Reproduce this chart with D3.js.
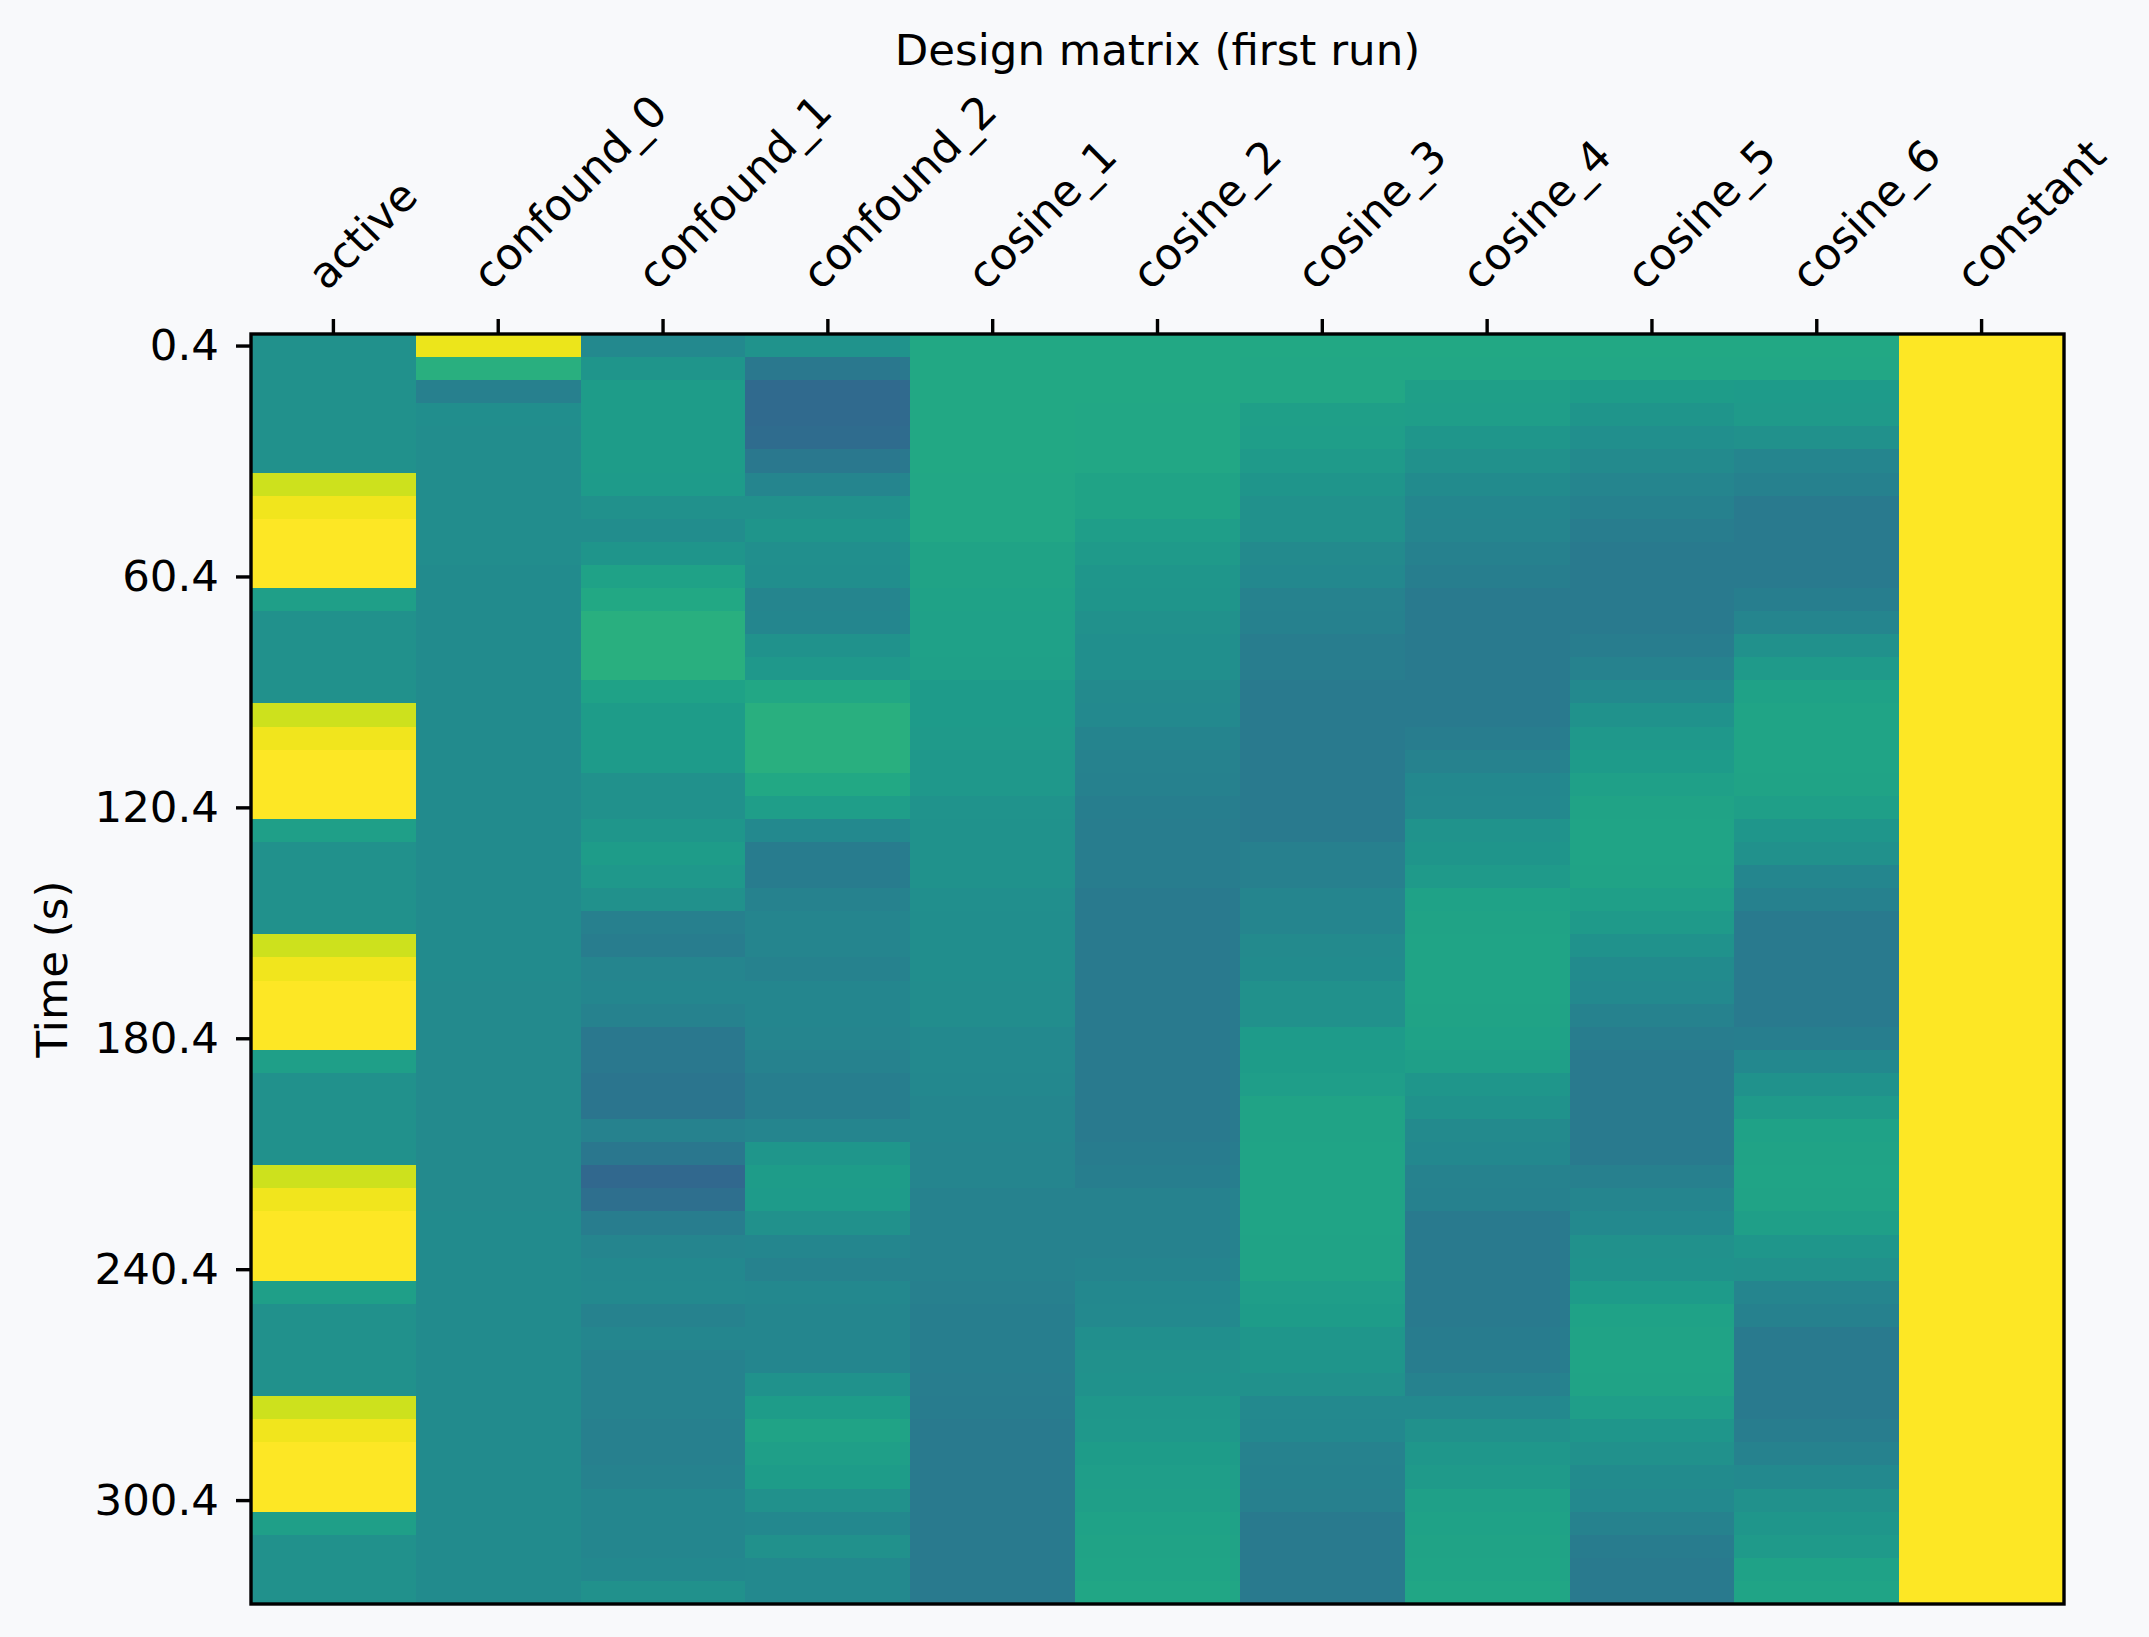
<!DOCTYPE html>
<html>
<head>
<meta charset="utf-8">
<script src="https://cdn.jsdelivr.net/npm/d3@7"></script>
<style>
	body { margin: 0; background: #f8f9fb; }
	text { font-family: "DejaVu Sans", sans-serif; fill: #000; }
</style>
</head>
<body>
<div id="chart-area"></div>
<script>
/*
 *    Design matrix (first run) - heatmap of the regressors
 */

// frame times (s), one per scan
var frameTimes = [0.4, 6.4, 12.4, 18.4, 24.4, 30.4, 36.4, 42.4, 48.4, 54.4,
	60.4, 66.4, 72.4, 78.4, 84.4, 90.4, 96.4, 102.4, 108.4, 114.4,
	120.4, 126.4, 132.4, 138.4, 144.4, 150.4, 156.4, 162.4, 168.4, 174.4,
	180.4, 186.4, 192.4, 198.4, 204.4, 210.4, 216.4, 222.4, 228.4, 234.4,
	240.4, 246.4, 252.4, 258.4, 264.4, 270.4, 276.4, 282.4, 288.4, 294.4,
	300.4, 306.4, 312.4, 318.4, 324.4];

var regressors = ["active", "confound_0", "confound_1", "confound_2", "cosine_1",
	"cosine_2", "cosine_3", "cosine_4", "cosine_5", "cosine_6", "constant"];

var timeTicks = [0.4, 60.4, 120.4, 180.4, 240.4, 300.4];

// rescaled regressor values (position on the colour scale, 0..1)
var active = [0.5, 0.5, 0.5, 0.5, 0.5, 0.5, 0.925, 0.98, 1, 1,
	1, 0.56, 0.5, 0.5, 0.5, 0.5, 0.925, 0.98, 1, 1,
	1, 0.56, 0.5, 0.5, 0.5, 0.5, 0.925, 0.98, 1, 1,
	1, 0.56, 0.5, 0.5, 0.5, 0.5, 0.925, 0.98, 1, 1,
	1, 0.56, 0.5, 0.5, 0.5, 0.5, 0.925, 0.98, 1, 1,
	1, 0.56, 0.5, 0.5, 0.5];

var confound0 = [0.97, 0.63, 0.43, 0.49, 0.485, 0.485, 0.485, 0.485, 0.485, 0.485,
	0.48, 0.48, 0.48, 0.48, 0.48, 0.48, 0.48, 0.48, 0.48, 0.48,
	0.48, 0.48, 0.48, 0.48, 0.48, 0.48, 0.48, 0.48, 0.475, 0.475,
	0.475, 0.475, 0.475, 0.475, 0.475, 0.475, 0.475, 0.475, 0.48, 0.48,
	0.48, 0.48, 0.48, 0.48, 0.48, 0.48, 0.48, 0.48, 0.48, 0.48,
	0.48, 0.48, 0.48, 0.48, 0.48];

var confound1 = [0.47, 0.52, 0.55, 0.55, 0.55, 0.55, 0.545, 0.50, 0.485, 0.52,
	0.575, 0.60, 0.63, 0.63, 0.63, 0.575, 0.55, 0.55, 0.545, 0.50,
	0.50, 0.525, 0.55, 0.535, 0.50, 0.43, 0.42, 0.455, 0.46, 0.445,
	0.40, 0.40, 0.39, 0.39, 0.44, 0.395, 0.335, 0.36, 0.42, 0.455,
	0.465, 0.47, 0.44, 0.46, 0.44, 0.44, 0.445, 0.43, 0.43, 0.445,
	0.46, 0.46, 0.46, 0.465, 0.50];

var confound2 = [0.515, 0.40, 0.34, 0.34, 0.35, 0.40, 0.455, 0.50, 0.52, 0.495,
	0.49, 0.455, 0.46, 0.51, 0.535, 0.595, 0.63, 0.63, 0.63, 0.60,
	0.555, 0.47, 0.415, 0.415, 0.445, 0.455, 0.455, 0.445, 0.46, 0.46,
	0.455, 0.445, 0.425, 0.425, 0.455, 0.525, 0.55, 0.545, 0.50, 0.46,
	0.445, 0.465, 0.46, 0.46, 0.46, 0.505, 0.55, 0.58, 0.56, 0.55,
	0.50, 0.465, 0.50, 0.47, 0.47];

var cosine1 = [0.60, 0.60, 0.60, 0.60, 0.60, 0.60, 0.595, 0.595, 0.595, 0.58,
	0.58, 0.575, 0.57, 0.57, 0.565, 0.545, 0.545, 0.54, 0.535, 0.535,
	0.515, 0.51, 0.51, 0.51, 0.495, 0.49, 0.49, 0.49, 0.485, 0.485,
	0.47, 0.47, 0.465, 0.46, 0.46, 0.455, 0.455, 0.445, 0.44, 0.44,
	0.44, 0.43, 0.425, 0.425, 0.425, 0.42, 0.415, 0.41, 0.41, 0.41,
	0.41, 0.41, 0.41, 0.41, 0.41];

var cosine2 = [0.60, 0.60, 0.60, 0.595, 0.595, 0.595, 0.58, 0.58, 0.555, 0.54,
	0.525, 0.52, 0.50, 0.495, 0.495, 0.475, 0.47, 0.45, 0.445, 0.435,
	0.425, 0.42, 0.42, 0.42, 0.41, 0.41, 0.41, 0.41, 0.41, 0.41,
	0.41, 0.41, 0.41, 0.41, 0.41, 0.415, 0.425, 0.44, 0.445, 0.445,
	0.45, 0.465, 0.47, 0.495, 0.50, 0.505, 0.53, 0.535, 0.55, 0.555,
	0.56, 0.575, 0.58, 0.585, 0.59];

var cosine3 = [0.60, 0.595, 0.595, 0.56, 0.555, 0.54, 0.52, 0.50, 0.50, 0.475,
	0.465, 0.445, 0.435, 0.42, 0.42, 0.41, 0.41, 0.41, 0.41, 0.41,
	0.41, 0.41, 0.43, 0.43, 0.455, 0.455, 0.475, 0.48, 0.50, 0.50,
	0.545, 0.55, 0.555, 0.58, 0.58, 0.585, 0.585, 0.585, 0.585, 0.58,
	0.58, 0.555, 0.55, 0.525, 0.52, 0.50, 0.47, 0.465, 0.445, 0.435,
	0.43, 0.41, 0.41, 0.41, 0.41];

var cosine4 = [0.60, 0.595, 0.56, 0.555, 0.525, 0.50, 0.48, 0.46, 0.455, 0.435,
	0.425, 0.41, 0.41, 0.41, 0.41, 0.41, 0.41, 0.42, 0.44, 0.465,
	0.47, 0.515, 0.52, 0.54, 0.575, 0.58, 0.585, 0.585, 0.585, 0.58,
	0.575, 0.56, 0.525, 0.505, 0.475, 0.465, 0.445, 0.435, 0.41, 0.41,
	0.41, 0.41, 0.41, 0.415, 0.42, 0.44, 0.47, 0.50, 0.53, 0.54,
	0.565, 0.575, 0.58, 0.585, 0.59];

var cosine5 = [0.60, 0.595, 0.55, 0.52, 0.495, 0.475, 0.455, 0.435, 0.42, 0.41,
	0.41, 0.41, 0.41, 0.42, 0.445, 0.47, 0.505, 0.535, 0.545, 0.565,
	0.58, 0.585, 0.585, 0.58, 0.56, 0.54, 0.51, 0.48, 0.47, 0.445,
	0.42, 0.41, 0.41, 0.41, 0.41, 0.41, 0.43, 0.455, 0.47, 0.50,
	0.51, 0.545, 0.575, 0.58, 0.585, 0.58, 0.555, 0.525, 0.50, 0.48,
	0.47, 0.44, 0.415, 0.41, 0.41];

var cosine6 = [0.60, 0.595, 0.545, 0.54, 0.50, 0.455, 0.435, 0.41, 0.41, 0.41,
	0.41, 0.425, 0.455, 0.50, 0.54, 0.575, 0.585, 0.585, 0.585, 0.58,
	0.56, 0.525, 0.50, 0.46, 0.435, 0.41, 0.41, 0.41, 0.41, 0.41,
	0.425, 0.465, 0.505, 0.54, 0.575, 0.58, 0.585, 0.58, 0.56, 0.525,
	0.50, 0.455, 0.435, 0.41, 0.41, 0.41, 0.41, 0.42, 0.445, 0.47,
	0.50, 0.525, 0.54, 0.575, 0.585];

var constant = [1, 1, 1, 1, 1, 1, 1, 1, 1, 1,
	1, 1, 1, 1, 1, 1, 1, 1, 1, 1,
	1, 1, 1, 1, 1, 1, 1, 1, 1, 1,
	1, 1, 1, 1, 1, 1, 1, 1, 1, 1,
	1, 1, 1, 1, 1, 1, 1, 1, 1, 1,
	1, 1, 1, 1, 1];

var columns = [active, confound0, confound1, confound2, cosine1,
	cosine2, cosine3, cosine4, cosine5, cosine6, constant];

// flatten into cells
var cells = [];
columns.forEach((col, j) => {
	col.forEach((v, i) => {
		cells.push({ name: regressors[j], time: frameTimes[i], value: v });
	});
});

var W = 2149, H = 1637;
var margin = { left: 251, right: 85, top: 334, bottom: 33 };
var width = W - margin.left - margin.right;
var height = H - margin.top - margin.bottom;
var fontSize = 43.5;
var lw = 3.4;
var tickLen = 15;
var half = 3; // half of the repetition time

var svg = d3.select("#chart-area")
	.append("svg")
	.attr("width", W)
	.attr("height", H);

svg.append("rect")
	.attr("width", W)
	.attr("height", H)
	.attr("fill", "#f8f9fb");

var g = svg.append("g")
	.attr("transform", "translate(" + margin.left + ", " + margin.top + ")");

var x = d3.scaleBand()
	.domain(regressors)
	.range([0, width])
	.padding(0);

var y = d3.scaleLinear()
	.domain([frameTimes[0] - half, frameTimes[frameTimes.length - 1] + half])
	.range([0, height]);

var color = d3.scaleSequential(d3.interpolateViridis)
	.domain([0, 1]);

// cells
g.append("g")
	.attr("shape-rendering", "crispEdges")
	.selectAll("rect.cell")
	.data(cells)
	.enter()
	.append("rect")
	.attr("class", "cell")
	.attr("x", d => x(d.name))
	.attr("y", d => y(d.time - half))
	.attr("width", x.bandwidth() + 0.5)
	.attr("height", y(frameTimes[1]) - y(frameTimes[0]) + 0.5)
	.attr("fill", d => color(d.value));

// X axis on top
var xAxisCall = d3.axisTop(x)
	.tickSize(tickLen)
	.tickFormat("");
var xAxisGroup = g.append("g")
	.attr("class", "x axis")
	.call(xAxisCall);
xAxisGroup.select(".domain").remove();
xAxisGroup.selectAll("line")
	.attr("stroke", "#000")
	.attr("stroke-width", lw);

g.selectAll("text.xlabel")
	.data(regressors)
	.enter()
	.append("text")
	.attr("class", "xlabel")
	.attr("font-size", fontSize)
	.attr("text-anchor", "start")
	.attr("transform", d => {
		var px = x(d) + x.bandwidth() / 2 - 7;
		var py = -42;
		return "translate(" + px + "," + py + ") rotate(-45)";
	})
	.text(d => d);

// Y axis
var yAxisCall = d3.axisLeft(y)
	.tickValues(timeTicks)
	.tickSize(tickLen)
	.tickPadding(17)
	.tickFormat(d => d.toFixed(1));
var yAxisGroup = g.append("g")
	.attr("class", "y axis")
	.call(yAxisCall);
yAxisGroup.select(".domain").remove();
yAxisGroup.selectAll("line")
	.attr("stroke", "#000")
	.attr("stroke-width", lw);
yAxisGroup.selectAll("text")
	.attr("font-size", fontSize)
	.attr("font-family", "DejaVu Sans")
	.attr("fill", "#000");

// frame
g.append("rect")
	.attr("width", width)
	.attr("height", height)
	.attr("fill", "none")
	.attr("stroke", "#000")
	.attr("stroke-width", lw);

// labels
svg.append("text")
	.attr("x", margin.left + width / 2)
	.attr("y", 65)
	.attr("font-size", fontSize)
	.attr("text-anchor", "middle")
	.text("Design matrix (first run)");

svg.append("text")
	.attr("font-size", fontSize)
	.attr("text-anchor", "middle")
	.attr("transform", "translate(67," + (margin.top + height / 2) + ") rotate(-90)")
	.text("Time (s)");
</script>
</body>
</html>
